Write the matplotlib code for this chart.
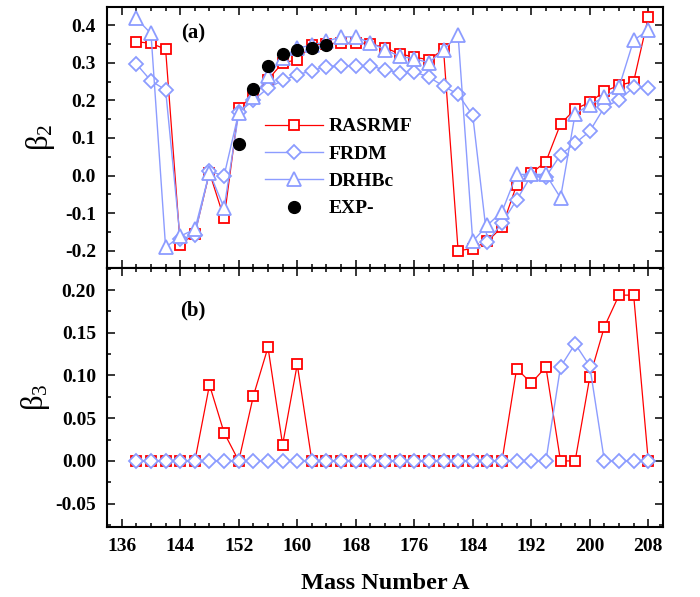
import matplotlib
matplotlib.use('Agg')
import matplotlib.pyplot as plt
from matplotlib.ticker import MultipleLocator, FormatStrFormatter

# mass numbers 138..208, step 2
mass = list(range(138, 210, 2))

b2_rasrmf = [0.356, 0.352, 0.336, -0.184, -0.155, 0.008, -0.114, 0.180, 0.212, 0.255,
             0.300, 0.308, 0.347, 0.351, 0.352, 0.352, 0.351, 0.340, 0.324, 0.315,
             0.308, 0.336, -0.200, -0.194, -0.175, -0.137, -0.025, 0.006, 0.037, 0.137,
             0.177, 0.195, 0.224, 0.240, 0.250, 0.421]
b2_frdm = [0.297, 0.252, 0.228, -0.170, -0.157, 0.011, 0.000, 0.168, 0.200, 0.233,
           0.253, 0.268, 0.279, 0.290, 0.292, 0.292, 0.292, 0.281, 0.274, 0.276,
           0.262, 0.238, 0.216, 0.160, -0.176, -0.126, -0.065, 0.000, -0.003, 0.055,
           0.086, 0.118, 0.182, 0.201, 0.235, 0.234]
b2_drhbc = [0.418, 0.378, -0.191, -0.161, -0.143, 0.008, -0.086, 0.166, 0.208, 0.264,
            0.314, 0.339, 0.347, 0.357, 0.369, 0.369, 0.353, 0.335, 0.317, 0.311,
            0.300, 0.335, 0.373, -0.175, -0.132, -0.096, 0.003, 0.003, 0.003, -0.059,
            0.164, 0.189, 0.208, 0.235, 0.360, 0.387]

exp_mass = [152, 154, 156, 158, 160, 162, 164]
b2_exp = [0.085, 0.231, 0.292, 0.324, 0.334, 0.339, 0.347]

b3_rasrmf = [0, 0, 0, 0, 0, 0.089, 0.033, 0, 0.076, 0.133,
             0.019, 0.113, 0, 0, 0, 0, 0, 0, 0, 0,
             0, 0, 0, 0, 0, 0, 0.108, 0.091, 0.110, 0,
             0, 0.098, 0.157, 0.194, 0.194, 0]
b3_frdm = [0] * 29 + [0.110, 0.137, 0.111] + [0] * 4

RED = '#ff0000'
BLUE = '#8c9cff'

plt.rcParams['font.family'] = 'Liberation Serif'
plt.rcParams['mathtext.fontset'] = 'custom'
plt.rcParams['mathtext.rm'] = 'Liberation Serif'


def style_axis(ax):
    for s in ax.spines.values():
        s.set_linewidth(1.5)
    ax.xaxis.set_major_locator(MultipleLocator(8))
    ax.xaxis.set_minor_locator(MultipleLocator(2))
    ax.tick_params(which='both', direction='in', top=True, right=True, width=1.1)
    ax.tick_params(which='major', length=5.8, pad=8, labelsize=14)
    ax.tick_params(which='minor', length=3)
    for lab in ax.get_xticklabels() + ax.get_yticklabels():
        lab.set_fontweight('bold')


def main():
    fig = plt.figure(figsize=(7, 5.97), dpi=100)
    ax1 = fig.add_axes([0.153, 0.551, 0.794, 0.437])
    ax2 = fig.add_axes([0.153, 0.117, 0.794, 0.434], sharex=ax1)

    # (a) beta2
    ax1.plot(mass, b2_rasrmf, '-s', color=RED, lw=0.9, ms=7, mfc='white', mec=RED, mew=1.3,
             label='RASRMF')
    ax1.plot(mass, b2_frdm, '-D', color=BLUE, lw=1.0, ms=7.5, mfc='white', mec=BLUE, mew=1.3,
             label='FRDM')
    ax1.plot(mass, b2_drhbc, '-^', color=BLUE, lw=1.0, ms=9.5, mfc='white', mec=BLUE, mew=1.3,
             label='DRHBc')
    ax1.plot(exp_mass, b2_exp, 'o', color='black', ms=8.5, label='EXP-')

    ax1.set_xlim(134, 210)
    ax1.set_ylim(-0.246, 0.448)
    ax1.yaxis.set_major_locator(MultipleLocator(0.1))
    ax1.yaxis.set_minor_locator(MultipleLocator(0.05))
    ax1.yaxis.set_major_formatter(FormatStrFormatter('%.1f'))
    ax1.tick_params(labelbottom=False)
    ax1.set_ylabel(r'$\mathregular{β_2}$', fontsize=22)
    ax1.yaxis.set_label_coords(-0.09, 0.5)
    ax1.text(0.155, 0.90, '(a)', transform=ax1.transAxes, fontsize=15, fontweight='bold',
             ha='center', va='center')
    ax1.legend(loc='center left', bbox_to_anchor=(0.27, 0.385), frameon=False,
               prop={'weight': 'bold', 'size': 14}, handlelength=3.0, handletextpad=0.3,
               labelspacing=0.5, borderaxespad=0)

    # (b) beta3
    ax2.plot(mass, b3_rasrmf, '-s', color=RED, lw=0.9, ms=7, mfc='white', mec=RED, mew=1.3)
    ax2.plot(mass, b3_frdm, '-D', color=BLUE, lw=1.0, ms=7.5, mfc='white', mec=BLUE, mew=1.3)
    ax2.set_ylim(-0.0775, 0.2257)
    ax2.yaxis.set_major_locator(MultipleLocator(0.05))
    ax2.yaxis.set_minor_locator(MultipleLocator(0.025))
    ax2.yaxis.set_major_formatter(FormatStrFormatter('%.2f'))
    ax2.set_ylabel(r'$\mathregular{β_3}$', fontsize=22)
    ax2.yaxis.set_label_coords(-0.1, 0.5)
    ax2.set_xlabel('Mass Number A', fontsize=17.5, fontweight='bold', labelpad=13)
    ax2.text(0.155, 0.838, '(b)', transform=ax2.transAxes, fontsize=15, fontweight='bold',
             ha='center', va='center')

    style_axis(ax1)
    style_axis(ax2)

    fig.savefig('out.png', dpi=100)


if __name__ == '__main__':
    main()
